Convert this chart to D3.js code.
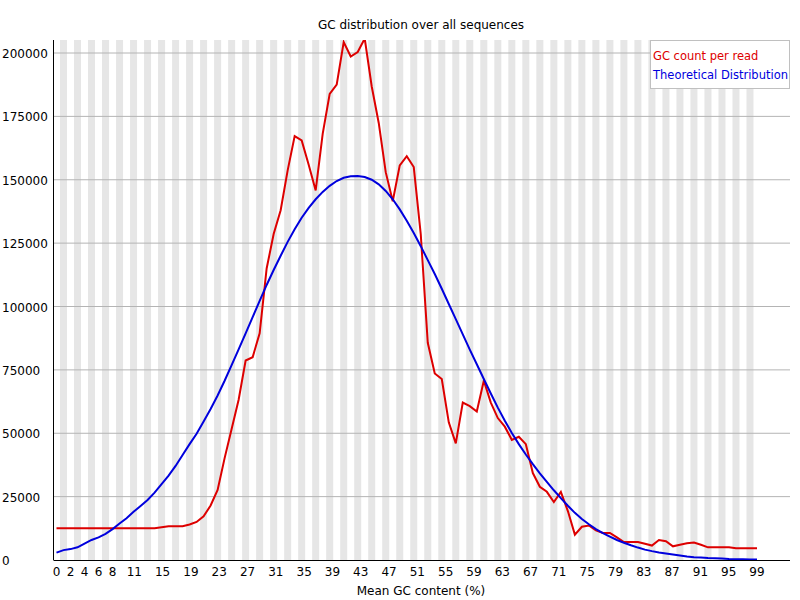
<!DOCTYPE html>
<html><head><meta charset="utf-8">
<script src="https://cdn.jsdelivr.net/npm/d3@7"></script>
<style>body{margin:0;background:#fff}text{font-family:"DejaVu Sans",sans-serif;font-size:12px}</style>
</head><body><svg id="c" width="800" height="600"></svg>
<script>
const gcCount = [12500,12500,12500,12500,12500,12500,12500,12500,12500,12500,12500,12500,12500,12500,12500,12900,13300,13300,13300,14000,15000,17200,21500,27600,40200,51700,63200,78700,80000,89400,115000,128600,138000,153700,167200,165500,155900,145800,168100,183900,187500,204300,198600,200400,205700,186800,172400,153000,141500,155700,159300,155000,128500,85700,73600,71400,54300,46000,62100,60700,58600,70700,62100,56000,52600,47400,48600,45700,34300,28900,26900,22900,26900,19300,10000,13100,13600,11700,10700,10700,8900,7100,7100,7100,6400,5700,7900,7400,5400,6000,6600,6900,6000,5000,5000,5000,5000,4600,4600,4600,4600];
const theoretical = [2900,3900,4300,5000,6500,7900,8900,10300,12200,14400,16500,19000,21300,23700,26600,29900,33300,37100,41400,45700,49800,54600,59600,64900,70700,76900,83100,89400,95800,102200,108500,114400,120000,125500,130500,135000,138900,142300,145200,147600,149500,150800,151400,151500,151100,150000,148200,145600,142300,138300,133800,129000,123800,118300,112800,107000,101000,95000,89000,83000,77200,71400,65700,60100,54900,50100,45700,41600,37800,34200,30800,27500,24400,21400,18600,16200,14100,12200,10600,9200,7900,6800,5800,4900,4100,3500,3000,2600,2200,1800,1400,1100,1000,800,700,600,400,300,300,200,200];
const xTickLabels = [0,2,4,6,8,11,15,19,23,27,31,35,39,43,47,51,55,59,63,67,71,75,79,83,87,91,95,99];
const yTicks = [0,25000,50000,75000,100000,125000,150000,175000,200000];
const seriesNames = ["GC count per read","Theoretical Distribution"];
const seriesColors = ["#dd0000","#0000dd"];

const svg = d3.select("#c");
const L=54, R=790, T=40, B=560;
const x = d3.scaleLinear().domain([0,100]).range([56.5,757]);
const y = d3.scaleLinear().domain([0,200000]).range([B,53]);
const w = x(1)-x(0);

svg.append("defs").append("clipPath").attr("id","cp").append("rect").attr("x",L).attr("y",T).attr("width",R-L).attr("height",B-T);
const g = svg.append("g").attr("clip-path","url(#cp)");
g.selectAll("rect.s").data(d3.range(0,100).filter(i=>i%2===1)).join("rect")
 .attr("x",i=>x(i)-w/2).attr("y",T).attr("width",w).attr("height",B-T).attr("fill","#e6e6e6");
g.selectAll("line.gr").data(yTicks.slice(1)).join("line")
 .attr("x1",L).attr("x2",R).attr("y1",d=>y(d)).attr("y2",d=>y(d)).attr("stroke","#b4b4b4").attr("stroke-width",1);
[gcCount,theoretical].forEach((s,k)=>{
  g.append("path").datum(s).attr("fill","none").attr("stroke",seriesColors[k]).attr("stroke-width",2)
   .attr("d",d3.line().x((d,i)=>x(i)).y(d=>y(d)));
});
svg.append("line").attr("x1",L-0.5).attr("x2",L-0.5).attr("y1",T).attr("y2",B).attr("stroke","#000");
svg.append("line").attr("x1",L-0.5).attr("x2",R).attr("y1",B+0.5).attr("y2",B+0.5).attr("stroke","#000");
svg.selectAll("text.yt").data(yTicks).join("text").attr("x",2).attr("y",d=>y(d)+5).text(d=>d);
svg.selectAll("text.xt").data(xTickLabels).join("text").attr("text-anchor","middle")
 .attr("x",d=>x(d<=8?d:d*100/99)).attr("y",576).text(d=>d);
svg.append("text").attr("x",421).attr("y",29).attr("text-anchor","middle").text("GC distribution over all sequences");
svg.append("text").attr("x",421).attr("y",595).attr("text-anchor","middle").text("Mean GC content (%)");
svg.append("rect").attr("x",650.5).attr("y",40.5).attr("width",139).attr("height",48).attr("fill","#fff").attr("stroke","#c0c0c0");
seriesNames.forEach((n,k)=>svg.append("text").attr("x",653).attr("y",60+k*19).attr("fill",seriesColors[k]).style("font-size","11.5px").text(n));
</script></body></html>
